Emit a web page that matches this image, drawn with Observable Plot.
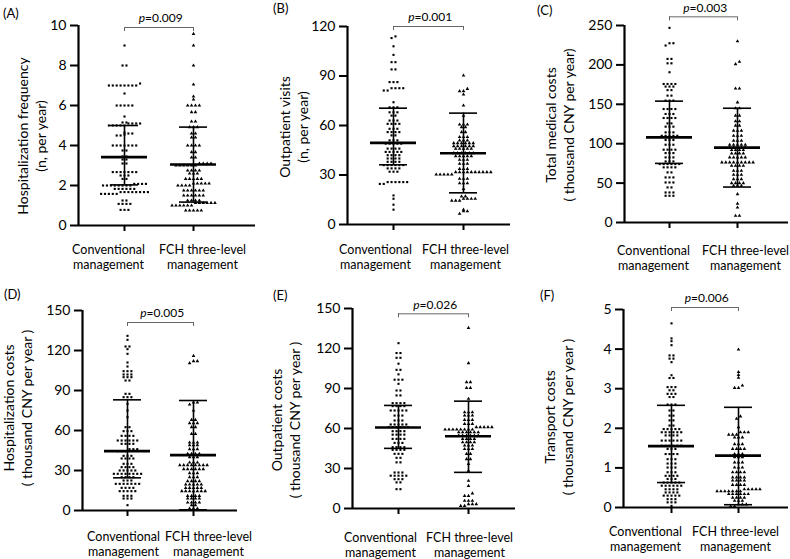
<!DOCTYPE html>
<html><head><meta charset="utf-8">
<script src="https://cdn.jsdelivr.net/npm/d3@7"></script>
<script src="https://cdn.jsdelivr.net/npm/@observablehq/plot@0.6"></script>
<style>
body{margin:0;background:#fff;}
#root{position:relative;width:790px;height:559px;overflow:hidden;font-family:Lato,sans-serif;color:#000;}
.plab{position:absolute;font-size:13px;line-height:16px;}
.ylab{position:absolute;font-size:14px;line-height:18px;white-space:nowrap;text-align:center;transform:translate(-50%,-50%) rotate(-90deg);}
.panel{position:absolute;}
</style></head><body><div id="root"></div>
<script>
// ---------- data ----------
const groups = ["Conventional\nmanagement", "FCH three-level\nmanagement"];
const panelLetters = ["(A)", "(B)", "(C)", "(D)", "(E)", "(F)"];
const yTitles = ["Hospitalization frequency", "Outpatient visits", "Total medical costs", "Hospitalization costs", "Outpatient costs", "Transport costs"];
const yUnits = ["(n, per year)", "(n, per year)", "( thousand CNY per year)", "( thousand CNY per year )", "( thousand CNY per year )", "( thousand CNY per year )"];
const yMax = [10, 120, 250, 150, 150, 5];
const yTickStep = [2, 30, 50, 30, 30, 1];
const pValues = ["0.009", "0.001", "0.003", "0.005", "0.026", "0.006"];
const bracketY = [9.9, 120, 261, 141, 146, 5.05];

const meanConv = [3.42, 49.5, 108, 44.5, 60.7, 1.55];
const lowConv  = [2.03, 36.2, 75, 24.5, 45.1, 0.63];
const highConv = [5.0, 70.5, 154, 83, 77.3, 2.58];
const meanFch  = [3.05, 43.2, 95, 41.5, 54.2, 1.31];
const lowFch   = [1.17, 19.2, 45, 0.5, 27.1, 0.07];
const highFch  = [4.92, 67.5, 145, 82.5, 80.5, 2.53];

const hospFreqConv = [9, 8, 8, 7,7,7,7,7,7,7,7, 7.1, 6.6, 6,6,6,6,6, 5.45, 5.15,5.15,5.1,5.1,5,5,5,5,5,5.1,5.1,
 4.65,4.6,4.6,4.55,4.5,4.5, 4,4,4,4,4,4,4, 3.75,3.75, 3.45,3.45, 3.3,3.3, 3.1,3.1, 2.67,2.67,2.67,2.67,2.67,2.67,2.67,
 2.5,2.5,2.5, 2.33,2.33, 2.08,2.08,2.08,2.08, 2,2,2,2,2,2,2,2, 1.83,1.83,1.83,1.83,1.83,1.83,
 1.67,1.67,1.67,1.67,1.67,1.67,1.67,1.67, 1.58,1.58,1.58,1.58,1.58, 1.25,1.25, 1.08,1.08,1.08,1.08, 0.78,0.78,0.78];
const hospFreqFch = [9.58, 9.0, 8.0, 7.05, 6.45, 6.3, 6,6,6,6, 5.67,5.67, 5.2,5.2, 4.92,4.92,4.92, 4.6,4.6, 4.4,4.4, 4,4,4,4,
 3.67,3.67, 3.4,3.4, 3.1,3.1,3.1,3.1, 3,3,3,3,3,3, 2.75,2.75,2.75,2.75, 2.6,2.6,2.6, 2.33,2.33,2.33,2.33,2.33,
 2.1,2.1,2.1,2.1,2.1, 2,2,2,2, 1.75,1.75,1.75,1.75,1.75,1.75, 1.5,1.5,1.5,1.5,1.5,1.5, 1.25,1.25,1.25,1.25,
 1.13,1.13,1.13,1.13,1.13,1.13, 1,1,1,1,1,1, 0.75,0.75,0.75,0.75,0.75];
const outVisitsConv = [114, 113, 108, 102.8, 98.4,98.4, 94,94, 86.3,86.3,86.3, 82.6,82.6,82.6,82.6, 81.2,81.2, 74.1,
 71,71,71, 68,68,68, 66,66, 63,63,63, 61,61,61,61, 58,58,58, 56,56,56,56, 54,54, 51,51,51, 49,49,49,49,49,
 46,46,46,46, 44,44,44,44,44, 42,42,42,42, 40,40,40,40, 38,38,38,38, 36,36,36,36,36,36, 34,34,34,34, 32,32,32,
 25.7,25.7,25.7,25.7,25.7,25.7, 24.6,24.6, 17.6, 15.6, 12, 9];
const outVisitsFch = [90.3, 82.2, 80.8,80.8, 78.8, 72.1, 66, 60.6,60.6,60.6, 59,59, 56,56, 53,53,53, 51,51,51,
 49.3,49.3,49.3,49.3,49.3,49.3, 47.5,47.5,47.5,47.5,47.5,47.5, 45.9,45.9,45.9,45.9,45.9, 43.2,43.2,43.2,43.2,43.2,43.2,
 41.4,41.4,41.4,41.4,41.4, 39.2,39.2,39.2, 36.8,36.8,36.8, 33.7,33.7,33.7, 31.7,31.7,31.7,31.7,31.7,31.7,31.7,31.7,31.7,31.7,
 30.3,30.3,30.3,30.3,30.3, 27.7,27.7,27.7, 25,25,25, 21.6, 17,17, 15.6,15.6,15.6,15.6, 14.5,14.5,14.5, 9, 8,8, 6.5];
const totalCostConv = [247, 227.5,227.5, 224.6, 207.6,207.6, 202,202, 190.7, 175.8,175.8,175.8,175.8, 172.5,172.5,172.5,
 168,168, 161,161, 154.7,154.7,154.7, 144,144,144,144, 137.7,137.7,137.7, 132.6,132.6,132.6,132.6, 125.8,125.8,
 121.6,121.6,121.6, 114.4,114.4,114.4, 110,110,110,110,110, 104.7,104.7,104.7, 98.7,98.7,98.7, 92.4,92.4,92.4,92.4,
 88.1,88.1,88.1, 82.6,82.6,82.6, 77.5,77.5,77.5, 74.2,74.2,74.2,74.2,74.2,74.2, 70,70,70,70, 63.6,63.6,
 57.2,57.2,57.2, 50.8,50.8,50.8, 44.5,44.5, 38.1,38.1,38.1, 33.9,33.9,33.9];
const totalCostFch = [230, 204, 201, 170,170, 152.5, 145,145, 135.6,135.6, 128.4,128.4, 122.9,122.9, 116.5,116.5,116.5,
 110,110,110, 103.8,103.8,103.8, 98.7,98.7,98.7,98.7,98.7, 95.3,95.3,95.3,95.3,95.3, 92,92,92,92, 87.7,87.7,87.7,87.7,
 82.6,82.6,82.6,82.6,82.6, 76.3,76.3,76.3,76.3,76.3,76.3,76.3,76.3,76.3, 72,72,72,72, 65.7,65.7,65.7,
 60.6,60.6,60.6, 55,55,55, 50,50,50,50, 46.6,46.6,46.6, 36, 24, 19, 8.5,8.5];
const hospCostConv = [131, 128, 123,123, 121, 117.5, 111, 108, 104.5,104.5,104.5, 102,102,102, 100,100,100, 97.5,97.5,
 87.5,87.5, 85,85,85, 80, 75, 70, 62.5,62.5, 59.5,59.5,59.5, 56,56,56,56, 52.5,52.5,52.5,52.5,52.5,52.5, 50,50,50,50,
 46,46,46, 44.5,44.5,44.5, 41,41,41, 39,39,39,39, 35,35,35, 32.5,32.5,32.5,32.5, 30,30,30,30,30,
 27.5,27.5,27.5,27.5,27.5,27.5,27.5,27.5, 25,25,25,25, 22.5,22.5,22.5, 20,20,20,20,20,20,20, 17,17,17,17,
 14.5,14.5,14.5,14.5,14.5, 11,11,11, 9,9,9, 4];
const hospCostFch = [116, 112,112, 110.5, 81,81, 79.5, 75, 68,68, 65.5,65.5,65.5, 62.5,62.5, 57.5,57.5, 51,51,51,
 49,49,49, 46,46,46, 42.5,42.5,42.5,42.5, 40,40,40, 36,36,36, 34,34,34,34,34,34,34,34, 31,31,31,31,31,31,
 28,28,28, 25,25,25, 22,22,22,22, 19.5,19.5,19.5,19.5,19.5, 17,17,17,17,17, 14.5,14.5,14.5,14.5,14.5,14.5,14.5,
 11,11,11,11, 9,9,9,9, 6,6,6,6, 4,4, 1.5,1.5,1.5];
const outCostConv = [124, 116.6,116.6, 113,113, 108.6, 104,104, 100.6, 96.6,96.6,96.6, 93.5, 88.5,88.5, 84.8,84.8,
 79,79,79,79, 76.8,76.8,76.8,76.8, 73.5,73.5,73.5,73.5,73.5, 69.7,69.7,69.7, 66,66,66, 63,63,63,63,63,
 61,61,61,61,61,61, 58,58,58,58, 55.4,55.4,55.4,55.4, 52.2,52.2,52.2,52.2, 49.2,49.2,49.2, 46,46,46,46,
 44,44,44,44, 41,41,41, 38,38, 34.6,34.6, 27,27,27, 24.6,24.6,24.6,24.6,24.6, 22,22,22, 19.6,19.6, 14.5,14.5];
const outCostFch = [135.4, 109, 94.8,94.8, 90.5,90.5, 82.3, 72.2,72.2,72.2, 69.7,69.7,69.7, 66.5,66.5,66.5, 63.5,63.5,63.5,
 61,61,61,61,61, 59.2,59.2,59.2,59.2,59.2,59.2,59.2,59.2, 57.2,57.2,57.2,57.2,57.2,57.2, 54.7,54.7,54.7,54.7,54.7,54.7,
 52.2,52.2,52.2,52.2, 49.7,49.7,49.7,49.7, 47.2,47.2,47.2, 44.6,44.6,44.6, 41,41, 37,37, 33.4, 28.3, 20.8, 17, 11.3,
 9.5,9.5, 5.8,5.8,5.8, 3.3,3.3,3.3, 2,2];
const transCostConv = [4.65, 4.27, 4.2, 4.1, 3.84,3.84, 3.76,3.76, 3.67, 3.34, 3.27,3.27, 3.04,3.04,3.04, 2.96,2.96,
 2.87,2.87,2.87, 2.79,2.79, 2.6,2.6,2.6, 2.45,2.45, 2.32,2.32, 2.2,2.2, 2.07,2.07, 1.98,1.98,1.98,1.98,1.98,
 1.9,1.9,1.9,1.9,1.9,1.9, 1.82,1.82,1.82,1.82, 1.69,1.69,1.69,1.69,1.69,1.69, 1.56,1.56,1.56,1.56,1.56,1.56,
 1.48,1.48,1.48, 1.35,1.35,1.35,1.35, 1.22,1.22,1.22, 1.11,1.11,1.11, 1.01,1.01,1.01, 0.89,0.89,0.89,
 0.8,0.8,0.8,0.8, 0.72,0.72,0.72, 0.63,0.63,0.63,0.63,0.63, 0.55,0.55,0.55,0.55,0.55,0.55, 0.46,0.46,0.46,0.46,
 0.38,0.38,0.38,0.38, 0.3,0.3,0.3,0.3,0.3, 0.21,0.21,0.21, 0.13,0.13,0.13, 0.04];
const transCostFch = [3.99, 3.42, 3.35, 3.28, 3.08, 3.02,3.02, 2.3, 2.24, 2.03, 1.9,1.9,1.9, 1.84,1.84,1.84,
 1.77,1.77,1.77, 1.6,1.6,1.6, 1.48,1.48,1.48,1.48, 1.35,1.35,1.35, 1.27,1.27,1.27, 1.14,1.14,1.14, 1.01,1.01,1.01,
 0.89,0.89,0.89,0.89, 0.76,0.76,0.76,0.76, 0.68,0.68,0.68,0.68, 0.57,0.57,0.57,0.57, 0.46,0.46,0.46,0.46,0.46,
 0.41,0.41,0.41,0.41,0.41,0.41,0.41, 0.34,0.34,0.34,0.34,0.34,0.34, 0.25,0.25,0.25,0.25, 0.17,0.17,0.17,
 0.08,0.08,0.08, 0.03,0.03];

const convSeries = [hospFreqConv, outVisitsConv, totalCostConv, hospCostConv, outCostConv, transCostConv];
const fchSeries = [hospFreqFch, outVisitsFch, totalCostFch, hospCostFch, outCostFch, transCostFch];

// ---------- layout (pixels) ----------
const frameLeft = [78, 347, 624, 82, 352, 623];
const frameRight = [255, 510, 788, 237, 515, 788];
const frameTop = [25, 26, 25, 310, 308, 309];
const frameBottom = [225, 224, 222, 510, 508, 507];
const groupPx0 = [124, 393, 669, 127, 398, 671];
const groupPx1 = [193, 463, 737, 193, 468, 738];
const convLabDx = [-16, -18, -16, -4, -18, -26];
const fchLabDx = [9, 2, 8, 15, 1, -3];
const labDy = [22, 23, 26, 24, 27, 22];
const yLabCenter = [[32, 136], [293.5, 127], [560, 125], [17.5, 408], [286, 420], [559, 417]];
const letterPos = [[3, 5], [273, 0], [537, 2], [4, 286], [273, 287], [540, 287]];

const root = document.getElementById("root");
const ML = 92, MT = 36, MR = 2, MB = 64;

function swarm(values, g, pxPerY, unit) {
  const sorted = values.slice().sort((a, b) => a - b);
  const rows = [];
  let cur = [];
  for (const v of sorted) {
    if (cur.length && (v - cur[0]) * pxPerY > 2.6) { rows.push(cur); cur = []; }
    cur.push(v);
  }
  if (cur.length) rows.push(cur);
  const out = [];
  for (const r of rows) {
    const n = r.length;
    r.forEach((v, i) => out.push({x: g + (i - (n - 1) / 2) * 3.9 / unit, y: v}));
  }
  return out;
}

for (let p = 0; p < 6; p++) {
  const unit = groupPx1[p] - groupPx0[p];
  const xDom = [(frameLeft[p] - groupPx0[p]) / unit, (frameRight[p] - groupPx0[p]) / unit];
  const pxPerY = (frameBottom[p] - frameTop[p]) / yMax[p];
  const width = ML + frameRight[p] - frameLeft[p] + MR;
  const height = MT + frameBottom[p] - frameTop[p] + MB;
  const conv = swarm(convSeries[p], 0, pxPerY, unit);
  const fch = swarm(fchSeries[p], 1, pxPerY, unit);
  const stats = [
    {g: 0, mean: meanConv[p], low: lowConv[p], high: highConv[p]},
    {g: 1, mean: meanFch[p], low: lowFch[p], high: highFch[p]}
  ];
  const caps = stats.flatMap(d => [{g: d.g, v: d.low}, {g: d.g, v: d.high}]);
  const halfMean = 23 / unit, halfCap = 14 / unit;
  const bY = bracketY[p];
  const ticks = d3.range(0, yMax[p] + yTickStep[p] / 2, yTickStep[p]);

  const chart = Plot.plot({
    width, height,
    marginLeft: ML, marginTop: MT, marginRight: MR, marginBottom: MB,
    style: {fontFamily: "Lato, sans-serif", fontSize: "13px", color: "#000", background: "transparent", overflow: "visible"},
    x: {domain: xDom},
    y: {domain: [0, yMax[p]]},
    marks: [
      Plot.dot(conv, {x: "x", y: "y", symbol: "square", r: 1.2, fill: "#000"}),
      Plot.dot(fch, {x: "x", y: "y", symbol: "triangle", r: 1.35, fill: "#000"}),
      Plot.ruleX(stats, {x: "g", y1: "low", y2: "high", strokeWidth: 1.6}),
      Plot.ruleY(caps, {y: "v", x1: d => d.g - halfCap, x2: d => d.g + halfCap, strokeWidth: 1.6}),
      Plot.ruleY(stats, {y: "mean", x1: d => d.g - halfMean, x2: d => d.g + halfMean, strokeWidth: 2.6}),
      Plot.ruleY([0], {strokeWidth: 2.2}),
      Plot.ruleX([xDom[0]], {strokeWidth: 2.2}),
      Plot.axisY({ticks, tickSize: 8, tickPadding: 4, fontSize: 14, label: null, strokeWidth: 2, tickFormat: d => String(d)}),
      Plot.axisX({ticks: [0, 1], tickSize: 6, tickFormat: () => "", label: null, strokeWidth: 2}),
      Plot.text([groups[0]], {x: () => 0, y: () => 0, dx: convLabDx[p], dy: labDy[p] - 4.5, lineAnchor: "top", lineHeight: 1.2, fontSize: 12.5}),
      Plot.text([groups[1]], {x: () => 1, y: () => 0, dx: fchLabDx[p], dy: labDy[p] - 4.5, lineAnchor: "top", lineHeight: 1.2, fontSize: 12.5}),
      Plot.ruleY([bY], {x1: 0, x2: 1, stroke: "#666", strokeWidth: 1}),
      Plot.ruleX([0, 1], {y1: bY, y2: bY - 4 / pxPerY, stroke: "#666", strokeWidth: 1}),
      Plot.text(["p"], {x: () => 0.5, y: () => bY, dx: -14, dy: -9, textAnchor: "end", fontStyle: "italic", fontSize: 12}),
      Plot.text(["=" + pValues[p]], {x: () => 0.5, y: () => bY, dx: -14, dy: -9, textAnchor: "start", fontSize: 12})
    ]
  });
  chart.classList.add("panel");
  chart.style.left = (frameLeft[p] - ML) + "px";
  chart.style.top = (frameTop[p] - MT) + "px";
  root.appendChild(chart);

  const yl = document.createElement("div");
  yl.className = "ylab";
  yl.appendChild(document.createTextNode(yTitles[p]));
  yl.appendChild(document.createElement("br"));
  yl.appendChild(document.createTextNode(yUnits[p]));
  yl.style.left = yLabCenter[p][0] + "px";
  yl.style.top = yLabCenter[p][1] + "px";
  root.appendChild(yl);

  const lab = document.createElement("div");
  lab.className = "plab";
  lab.textContent = panelLetters[p];
  lab.style.left = letterPos[p][0] + "px";
  lab.style.top = letterPos[p][1] + "px";
  root.appendChild(lab);
}
</script>
</body></html>
